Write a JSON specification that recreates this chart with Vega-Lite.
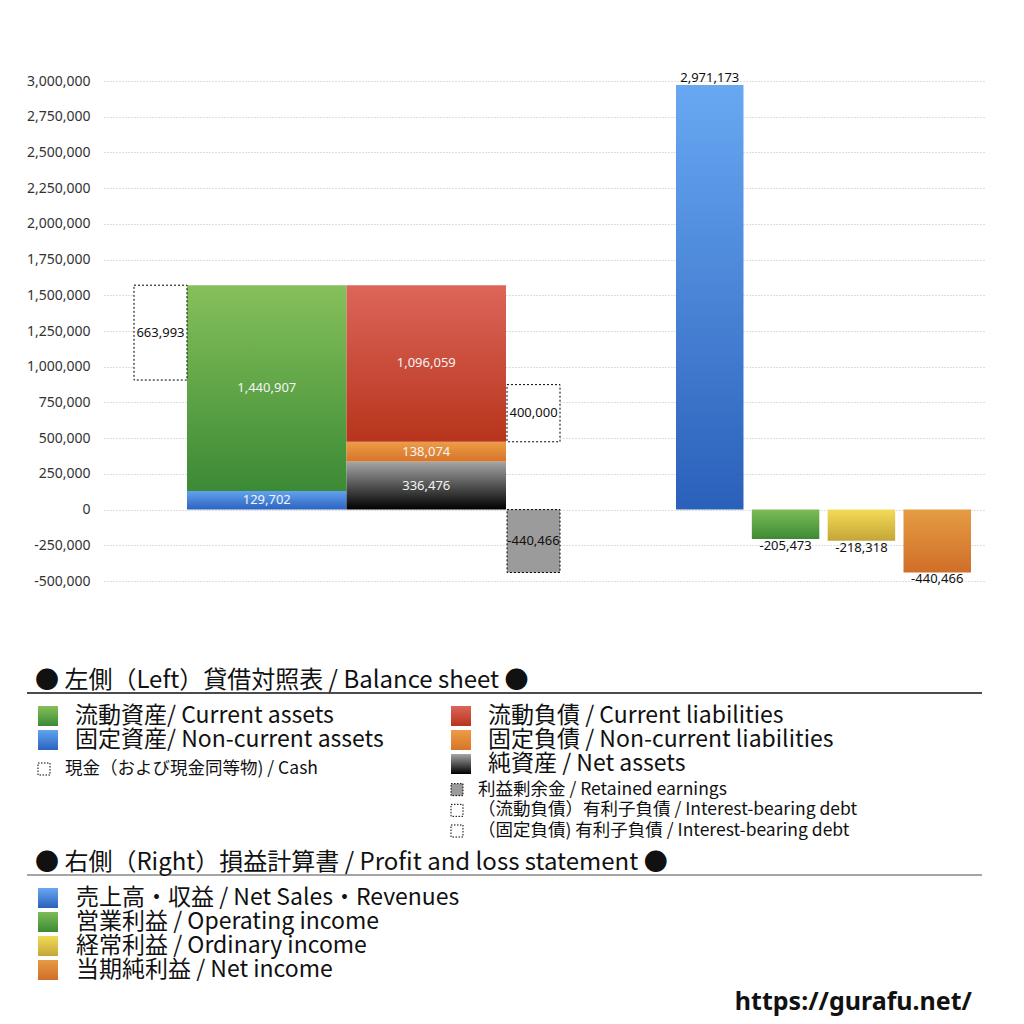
{
  "$schema": "https://vega.github.io/schema/vega-lite/v6.json",
  "width": 881,
  "height": 500,
  "autosize": {"type": "none"},
  "padding": {"left": 104, "top": 81, "right": 39, "bottom": 443},
  "background": "#ffffff",
  "config": {
    "view": {"stroke": null},
    "font": "Noto Sans CJK JP",
    "locale": {"number": {"decimal": ".", "thousands": ",", "grouping": [3], "currency": ["$", ""], "minus": "-"}}
  },
  "datasets": {
    "bs": [
      {"col": "資産", "item": "固定資産", "value": 129702, "order": 1},
      {"col": "資産", "item": "流動資産", "value": 1440907, "order": 2},
      {"col": "負債純資産", "item": "純資産", "value": 336476, "order": 1},
      {"col": "負債純資産", "item": "固定負債", "value": 138074, "order": 2},
      {"col": "負債純資産", "item": "流動負債", "value": 1096059, "order": 3}
    ],
    "box": [
      {"col": "左", "item": "現金", "value": 663993, "low": 906616, "high": 1570609},
      {"col": "右", "item": "有利子負債", "value": 400000, "low": 474550, "high": 874550},
      {"col": "右", "item": "利益剰余金", "value": -440466, "low": -440466, "high": 0}
    ],
    "pl": [
      {"item": "売上高", "value": 2971173},
      {"item": "営業利益", "value": -205473},
      {"item": "経常利益", "value": -218318},
      {"item": "当期純利益", "value": -440466}
    ],
    "legHead": [
      {"sec": "BS", "label": "● 左側（Left）貸借対照表 / Balance sheet ●"},
      {"sec": "PL", "label": "● 右側（Right）損益計算書 / Profit and loss statement ●"}
    ],
    "legMain": [
      {"col": "L", "line": "1", "item": "流動資産", "label": "流動資産/ Current assets"},
      {"col": "L", "line": "2", "item": "固定資産", "label": "固定資産/ Non-current assets"},
      {"col": "R", "line": "1", "item": "流動負債", "label": "流動負債 /  Current liabilities"},
      {"col": "R", "line": "2", "item": "固定負債", "label": "固定負債 / Non-current liabilities"},
      {"col": "R", "line": "3", "item": "純資産", "label": "純資産 / Net assets"}
    ],
    "legSub": [
      {"col": "L", "line": "3", "item": "現金", "label": "現金（および現金同等物) / Cash"},
      {"col": "R", "line": "4", "item": "利益剰余金", "label": "利益剰余金 / Retained earnings"},
      {"col": "R", "line": "5", "item": "有利子負債", "label": "（流動負債）有利子負債 / Interest-bearing debt"},
      {"col": "R", "line": "6", "item": "有利子負債", "label": "（固定負債) 有利子負債 / Interest-bearing debt"}
    ],
    "legPL": [
      {"col": "L", "line": "1", "item": "売上高", "label": "売上高・収益 / Net Sales・Revenues"},
      {"col": "L", "line": "2", "item": "営業利益", "label": "営業利益 / Operating income"},
      {"col": "L", "line": "3", "item": "経常利益", "label": "経常利益 / Ordinary income"},
      {"col": "L", "line": "4", "item": "当期純利益", "label": "当期純利益 / Net income"}
    ],
    "credit": [{"label": "https://gurafu.net/"}]
  },
  "resolve": {"scale": {"x": "independent", "y": "independent"}},
  "layer": [
    {
      "data": {"name": "pl"},
      "mark": {"type": "rule", "opacity": 0},
      "encoding": {
        "y": {
          "datum": 0,
          "type": "quantitative",
          "scale": {"domain": [-500000, 3000000], "nice": false},
          "axis": {
            "values": [-500000, -250000, 0, 250000, 500000, 750000, 1000000, 1250000, 1500000, 1750000, 2000000, 2250000, 2500000, 2750000, 3000000],
            "format": ",d",
            "title": null,
            "domain": false,
            "ticks": false,
            "labelPadding": 14,
            "labelOverlap": false,
            "labelFont": "Noto Sans",
            "labelFontSize": 14,
            "labelColor": "#333333",
            "grid": true,
            "gridColor": "#bdbdbd",
            "gridDash": [1, 2],
            "gridWidth": 1
          }
        }
      }
    },
    {
      "data": {"name": "bs"},
      "transform": [
        {"stack": "value", "groupby": ["col"], "sort": [{"field": "order", "order": "ascending"}], "as": ["lo", "hi"]},
        {"calculate": "(datum.lo + datum.hi) / 2", "as": "mid"}
      ],
      "encoding": {
        "x": {
          "field": "col",
          "type": "nominal",
          "scale": {"domain": ["資産", "負債純資産"], "range": [83, 402], "paddingInner": 0, "paddingOuter": 0},
          "axis": null
        }
      },
      "layer": [
        {
          "mark": {"type": "bar"},
          "encoding": {
            "y": {"field": "lo", "type": "quantitative", "scale": {"domain": [-500000, 3000000], "nice": false}, "axis": null},
            "y2": {"field": "hi"},
            "fill": {
              "condition": [
                {"test": "datum.item === '流動資産'", "value": {"gradient": "linear", "x1": 0, "y1": 0, "x2": 0, "y2": 1, "stops": [{"offset": 0, "color": "#86c05a"}, {"offset": 1, "color": "#3b8a35"}]}},
                {"test": "datum.item === '固定資産'", "value": {"gradient": "linear", "x1": 0, "y1": 0, "x2": 0, "y2": 1, "stops": [{"offset": 0, "color": "#62a2ee"}, {"offset": 1, "color": "#2c63c0"}]}},
                {"test": "datum.item === '流動負債'", "value": {"gradient": "linear", "x1": 0, "y1": 0, "x2": 0, "y2": 1, "stops": [{"offset": 0, "color": "#dc665a"}, {"offset": 1, "color": "#b8341c"}]}},
                {"test": "datum.item === '固定負債'", "value": {"gradient": "linear", "x1": 0, "y1": 0, "x2": 0, "y2": 1, "stops": [{"offset": 0, "color": "#ec9d46"}, {"offset": 1, "color": "#d7742a"}]}}
              ],
              "value": {"gradient": "linear", "x1": 0, "y1": 0, "x2": 0, "y2": 1, "stops": [{"offset": 0, "color": "#a6a6a6"}, {"offset": 1, "color": "#000000"}]}
            }
          }
        },
        {
          "mark": {"type": "text", "font": "Noto Sans", "fontSize": 13, "color": "#f4f4f4", "baseline": "middle"},
          "encoding": {
            "y": {"field": "mid", "type": "quantitative", "axis": null},
            "text": {"field": "value", "type": "quantitative", "format": ",d"}
          }
        }
      ]
    },
    {
      "data": {"name": "box"},
      "transform": [{"calculate": "(datum.low + datum.high) / 2", "as": "mid"}],
      "encoding": {
        "x": {
          "field": "col",
          "type": "nominal",
          "scale": {"domain": ["左", "右"], "range": [30, 456], "paddingInner": 0.858, "paddingOuter": 0},
          "axis": null
        }
      },
      "layer": [
        {
          "mark": {"type": "bar", "stroke": "#000000", "strokeWidth": 1, "strokeDash": [2, 2]},
          "encoding": {
            "y": {"field": "low", "type": "quantitative", "scale": {"domain": [-500000, 3000000], "nice": false}, "axis": null},
            "y2": {"field": "high"},
            "fill": {"condition": {"test": "datum.value < 0", "value": "#9b9b9b"}, "value": "#ffffff"}
          }
        },
        {
          "mark": {"type": "text", "font": "Noto Sans", "fontSize": 13, "color": "#111111", "baseline": "middle"},
          "encoding": {
            "y": {"field": "mid", "type": "quantitative", "axis": null},
            "text": {"field": "value", "type": "quantitative", "format": ",d"}
          }
        }
      ]
    },
    {
      "data": {"name": "pl"},
      "encoding": {
        "x": {
          "field": "item",
          "type": "nominal",
          "sort": null,
          "scale": {"domain": ["売上高", "営業利益", "経常利益", "当期純利益"], "range": [572, 867], "paddingInner": 0.11, "paddingOuter": 0},
          "axis": null
        },
        "y": {"field": "value", "type": "quantitative", "scale": {"domain": [-500000, 3000000], "nice": false}, "axis": null}
      },
      "layer": [
        {
          "mark": {"type": "bar"},
          "encoding": {
            "fill": {
              "condition": [
                {"test": "datum.item === '売上高'", "value": {"gradient": "linear", "x1": 0, "y1": 0, "x2": 0, "y2": 1, "stops": [{"offset": 0, "color": "#68a8f2"}, {"offset": 1, "color": "#2b60ba"}]}},
                {"test": "datum.item === '営業利益'", "value": {"gradient": "linear", "x1": 0, "y1": 0, "x2": 0, "y2": 1, "stops": [{"offset": 0, "color": "#7cbc56"}, {"offset": 1, "color": "#3d8a35"}]}},
                {"test": "datum.item === '経常利益'", "value": {"gradient": "linear", "x1": 0, "y1": 0, "x2": 0, "y2": 1, "stops": [{"offset": 0, "color": "#f3db56"}, {"offset": 1, "color": "#c5a538"}]}}
              ],
              "value": {"gradient": "linear", "x1": 0, "y1": 0, "x2": 0, "y2": 1, "stops": [{"offset": 0, "color": "#e59c43"}, {"offset": 1, "color": "#d06e29"}]}
            }
          }
        },
        {
          "transform": [{"filter": "datum.value >= 0"}],
          "mark": {"type": "text", "font": "Noto Sans", "fontSize": 13, "color": "#111111", "baseline": "bottom", "dy": 0},
          "encoding": {"text": {"field": "value", "type": "quantitative", "format": ",d"}}
        },
        {
          "transform": [{"filter": "datum.value < 0"}],
          "mark": {"type": "text", "font": "Noto Sans", "fontSize": 13, "color": "#111111", "baseline": "top", "dy": 1},
          "encoding": {"text": {"field": "value", "type": "quantitative", "format": ",d"}}
        }
      ]
    },
    {
      "data": {"name": "legHead"},
      "encoding": {
        "x": {"datum": 0, "type": "quantitative", "scale": {"domain": [0, 1], "range": [-77, 878], "nice": false, "zero": false}, "axis": null},
        "y": {"field": "sec", "type": "nominal", "scale": {"type": "point", "domain": ["BS", "PL"], "range": [612, 794], "padding": 0}, "axis": null}
      },
      "layer": [
        {
          "mark": {"type": "rule", "strokeWidth": 1.5},
          "encoding": {
            "x2": {"datum": 1},
            "color": {"field": "sec", "type": "nominal", "scale": {"domain": ["BS", "PL"], "range": ["#111111", "#888888"]}, "legend": null}
          }
        },
        {
          "mark": {"type": "text", "align": "left", "baseline": "alphabetic", "dx": 8, "dy": -5, "fontSize": 24, "color": "#111111"},
          "encoding": {"text": {"field": "label", "type": "nominal"}}
        }
      ]
    },
    {
      "data": {"name": "legMain"},
      "encoding": {
        "x": {"field": "col", "type": "nominal", "scale": {"type": "point", "domain": ["L", "R"], "range": [-56, 357], "padding": 0}, "axis": null},
        "y": {"field": "line", "type": "ordinal", "scale": {"type": "point", "domain": ["1", "2", "3"], "range": [635, 683], "padding": 0}, "axis": null}
      },
      "layer": [
        {
          "mark": {"type": "square", "size": 400, "opacity": 1},
          "encoding": {
            "fill": {
              "condition": [
                {"test": "datum.item === '流動資産'", "value": {"gradient": "linear", "x1": 0, "y1": 0, "x2": 0, "y2": 1, "stops": [{"offset": 0, "color": "#86c05a"}, {"offset": 1, "color": "#3b8a35"}]}},
                {"test": "datum.item === '固定資産'", "value": {"gradient": "linear", "x1": 0, "y1": 0, "x2": 0, "y2": 1, "stops": [{"offset": 0, "color": "#62a2ee"}, {"offset": 1, "color": "#2c63c0"}]}},
                {"test": "datum.item === '流動負債'", "value": {"gradient": "linear", "x1": 0, "y1": 0, "x2": 0, "y2": 1, "stops": [{"offset": 0, "color": "#dc665a"}, {"offset": 1, "color": "#b8341c"}]}},
                {"test": "datum.item === '固定負債'", "value": {"gradient": "linear", "x1": 0, "y1": 0, "x2": 0, "y2": 1, "stops": [{"offset": 0, "color": "#ec9d46"}, {"offset": 1, "color": "#d7742a"}]}}
              ],
              "value": {"gradient": "linear", "x1": 0, "y1": 0, "x2": 0, "y2": 1, "stops": [{"offset": 0, "color": "#a6a6a6"}, {"offset": 1, "color": "#000000"}]}
            }
          }
        },
        {
          "mark": {"type": "text", "align": "left", "baseline": "middle", "dx": 27, "fontSize": 23, "color": "#111111"},
          "encoding": {"text": {"field": "label", "type": "nominal"}}
        }
      ]
    },
    {
      "data": {"name": "legSub"},
      "encoding": {
        "x": {"field": "col", "type": "nominal", "scale": {"type": "point", "domain": ["L", "R"], "range": [-60, 353], "padding": 0}, "axis": null},
        "y": {"field": "line", "type": "ordinal", "scale": {"type": "point", "domain": ["3", "4", "5", "6"], "range": [688, 750], "padding": 0}, "axis": null}
      },
      "layer": [
        {
          "mark": {"type": "square", "size": 144, "opacity": 1, "stroke": "#000000", "strokeWidth": 1, "strokeDash": [1.5, 1.5]},
          "encoding": {
            "fill": {"condition": {"test": "datum.item === '利益剰余金'", "value": "#9b9b9b"}, "value": "#ffffff"}
          }
        },
        {
          "mark": {"type": "text", "align": "left", "baseline": "middle", "dx": 21, "fontSize": 17.5, "color": "#111111"},
          "encoding": {"text": {"field": "label", "type": "nominal"}}
        }
      ]
    },
    {
      "data": {"name": "legPL"},
      "encoding": {
        "x": {"field": "col", "type": "nominal", "scale": {"type": "point", "domain": ["L"], "range": [-56, -56], "padding": 0}, "axis": null},
        "y": {"field": "line", "type": "ordinal", "scale": {"type": "point", "domain": ["1", "2", "3", "4"], "range": [817, 889], "padding": 0}, "axis": null}
      },
      "layer": [
        {
          "mark": {"type": "square", "size": 400, "opacity": 1},
          "encoding": {
            "fill": {
              "condition": [
                {"test": "datum.item === '売上高'", "value": {"gradient": "linear", "x1": 0, "y1": 0, "x2": 0, "y2": 1, "stops": [{"offset": 0, "color": "#68a8f2"}, {"offset": 1, "color": "#2b60ba"}]}},
                {"test": "datum.item === '営業利益'", "value": {"gradient": "linear", "x1": 0, "y1": 0, "x2": 0, "y2": 1, "stops": [{"offset": 0, "color": "#7cbc56"}, {"offset": 1, "color": "#3d8a35"}]}},
                {"test": "datum.item === '経常利益'", "value": {"gradient": "linear", "x1": 0, "y1": 0, "x2": 0, "y2": 1, "stops": [{"offset": 0, "color": "#f3db56"}, {"offset": 1, "color": "#c5a538"}]}}
              ],
              "value": {"gradient": "linear", "x1": 0, "y1": 0, "x2": 0, "y2": 1, "stops": [{"offset": 0, "color": "#e59c43"}, {"offset": 1, "color": "#d06e29"}]}
            }
          }
        },
        {
          "mark": {"type": "text", "align": "left", "baseline": "middle", "dx": 28, "fontSize": 23, "color": "#111111"},
          "encoding": {"text": {"field": "label", "type": "nominal"}}
        }
      ]
    },
    {
      "data": {"name": "credit"},
      "mark": {"type": "text", "align": "right", "baseline": "middle", "dx": -10, "fontSize": 25, "fontWeight": "bold", "font": "Noto Sans", "color": "#111111"},
      "encoding": {
        "x": {"datum": 1, "type": "quantitative", "scale": {"domain": [0, 1], "range": [-77, 878], "nice": false, "zero": false}, "axis": null},
        "y": {"datum": "url", "type": "nominal", "scale": {"type": "point", "domain": ["url"], "range": [921, 921], "padding": 0}, "axis": null},
        "text": {"field": "label", "type": "nominal"}
      }
    }
  ]
}
